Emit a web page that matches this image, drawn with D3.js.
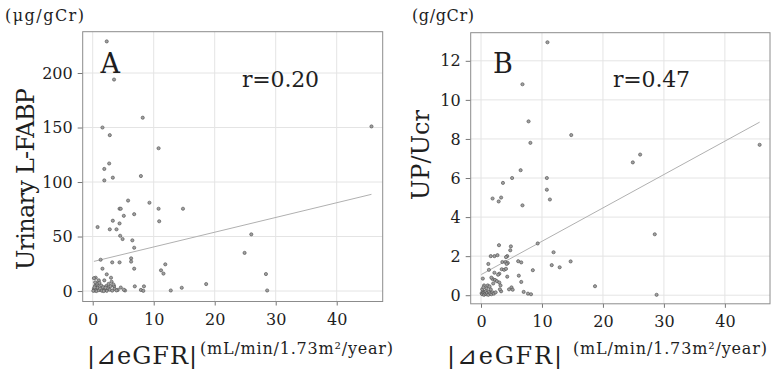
<!DOCTYPE html>
<html><head><meta charset="utf-8">
<script src="https://cdn.jsdelivr.net/npm/d3@7"></script>
<style>body{margin:0;background:#fff}svg{display:block}text{font-family:"DejaVu Serif",serif;fill:#1e1e1e}</style>
</head><body><svg id="c" width="771" height="369"></svg>
<script>
// ---- data ----
const xTicks = [0, 10, 20, 30, 40];
const aYTicks = [0, 50, 100, 150, 200];
const bYTicks = [0, 2, 4, 6, 8, 10, 12];
const aPoints = [
 [2.3,229],[3.5,194],[8.2,159],[1.6,150],[2.8,143],[10.8,131],[2.7,117],[1.9,112],[1.9,101.5],[3.3,104],[7.9,105.5],[45.7,151],
 [5.8,83],[9.3,81],[4.4,75.5],[4.6,75.5],[10.8,75.5],[14.8,75.5],[5.1,69],[6.8,70.5],[3.3,64.5],[10.9,64],[4.4,62],
 [0.8,58.7],[2.8,56.6],[3.9,56.6],[4.5,50.7],[4.9,47.7],[6.5,46.5],[6.8,39.7],[26.0,52],[24.9,35],
 [1.3,28.7],[3.2,26.3],[4.4,26.3],[6.3,30],[6.3,27],[6.8,20.5],[11.9,24.5],[11.2,19],[11.6,16],
 [1.6,20.5],[2.3,15.3],[3.0,12.2],[0.5,12.2],[0.2,11.8],[1.0,9.8],[1.9,9.8],[3.1,8.5],
 [28.4,15.6],[28.6,0.5],[18.6,6.4],[14.6,3],[12.8,0.5],
 [6.9,4.3],[8.4,4.3],[7.9,1],[8.3,0.2],[5.3,0.5],[5.1,1.2],[4.1,1],
 [0.4,5],[0.8,5],[1.4,5],[2.2,4.5],[2.9,4.5],[3.5,4.5],[0.2,2],[0.3,0.5],[0.5,1.5],[0.6,0],[0.8,3],[1.0,0.8],
 [1.2,2.2],[1.5,0.3],[1.7,3.5],[2.0,1],[2.3,0.2],[2.5,2.5],[2.8,1.2],[3.2,0.4],[3.6,2],[3.9,0.6],[0.1,0.2],
 [0.3,3.4],[0.7,6.8],[1.1,7.5],[2.6,6.5],[3.4,6],[4.6,3.2],[1.8,0],[0.4,8],[2.1,3]
];
const bPoints = [
 [10.9,12.95],[6.8,10.8],[7.8,8.9],[14.8,8.2],[8.1,7.8],[6.5,6.4],[5.1,6.0],[10.8,6.0],[3.6,5.75],[10.8,5.4],
 [1.9,4.95],[2.9,4.8],[3.3,5.0],[6.8,4.6],[11.3,4.9],[24.9,6.8],[26.1,7.2],[45.7,7.7],[28.5,3.12],[28.8,0.02],[18.7,0.46],
 [9.3,2.65],[2.95,2.56],[4.9,2.5],[4.8,2.3],[11.9,2.2],[1.6,2.0],[2.2,2.0],[2.7,2.05],[4.3,2.0],[4.1,1.95],
 [1.2,1.6],[3.5,1.7],[4.0,1.7],[4.4,1.65],[4.2,1.6],[6.1,1.74],[6.6,1.68],[11.6,1.54],[12.9,1.43],[14.7,1.73],
 [3.4,1.33],[3.8,1.3],[4.1,1.35],[0.3,0.85],[3.0,1.1],[2.8,1.05],[4.3,0.95],[1.9,0.83],[2.3,0.78],[2.6,0.72],[3.0,0.65],
 [6.2,1.0],[8.5,1.28],[6.6,0.68],[3.2,0.5],[7.0,0.17],[7.7,0.08],[8.2,0.05],[4.6,0.3],[5.0,0.4],[5.2,0.28],[3.3,0.2],[3.1,0.3],
 [0.5,0.5],[0.9,0.35],[1.1,0.5],
 [0.1,0.1],[0.2,0.05],[0.3,0.2],[0.4,0.12],[0.5,0.02],[0.6,0.15],[0.7,0.08],[0.8,0.2],[0.9,0.05],[1.0,0.12],[1.2,0.02],
 [1.3,0.18],[1.5,0.1],[1.7,0.05],[1.9,0.15],[2.1,0.08],[0.2,0.3],[0.4,0.4],[1.6,0.3],[2.4,0.15],[1.4,0.45],[2.0,0.6],
 [1.7,0.9],[2.2,1.15],[1.3,1.3]
];
const aFit = [[0.2, 27.2], [45.7, 88.7]];
const bFit = [[0.05, 1.06], [45.7, 8.86]];
const panels = [
 {label:"A", r:"r=0.20", unit:"(μg/gCr)", yTitle:"Urinary L-FABP", pts:aPoints, fit:aFit, yTicks:aYTicks,
  xd:[-1.64,47.54], xr:[82.7,382.7], yd:[-9.6,237.9], yr:[301.5,31.7],
  unitX:5, unitW:79, yTitleX:33.5, yTitleY:179, yTitleW:182,
  bigX:87, bigW:110, smallX:200, smallW:193, labelX:100.5, rX:242},
 {label:"B", r:"r=0.47", unit:"(g/gCr)", yTitle:"UP/Ucr", pts:bPoints, fit:bFit, yTicks:bYTicks,
  xd:[-1.69,47.4], xr:[470.7,770], yd:[-0.44,13.44], yr:[303.8,32.7],
  unitX:412, unitW:62, yTitleX:428.5, yTitleY:155, yTitleW:90,
  bigX:447, bigW:115, smallX:573, smallW:194, labelX:493, rX:613}
];
// ---- draw ----
const svg = d3.select("#c");
panels.forEach(p => {
  const x = d3.scaleLinear().domain(p.xd).range(p.xr);
  const y = d3.scaleLinear().domain(p.yd).range(p.yr);
  const g = svg.append("g");
  const [x0,x1] = p.xr, [y0,y1] = p.yr;
  g.append("rect").attr("x",x0).attr("y",y1).attr("width",x1-x0).attr("height",y0-y1).attr("fill","#fff");
  // grid
  g.selectAll(".gx").data(xTicks).join("line").attr("x1",d=>x(d)).attr("x2",d=>x(d)).attr("y1",y1).attr("y2",y0)
    .attr("stroke","#e4e4e4").attr("stroke-width",1);
  g.selectAll(".gy").data(p.yTicks).join("line").attr("y1",d=>y(d)).attr("y2",d=>y(d)).attr("x1",x0).attr("x2",x1)
    .attr("stroke","#e4e4e4").attr("stroke-width",1);
  // axes
  const ax = g.append("g").attr("transform",`translate(0,${y0})`).call(d3.axisBottom(x).tickValues(xTicks).tickSize(4).tickPadding(5));
  const ay = g.append("g").attr("transform",`translate(${x0},0)`).call(d3.axisLeft(y).tickValues(p.yTicks).tickSize(5).tickPadding(5));
  [ax,ay].forEach(a=>{ a.select(".domain").remove(); a.selectAll("line").attr("stroke","#777");
    a.selectAll("text").attr("font-family","DejaVu Serif").attr("font-size",16).attr("fill","#262626"); });
  ax.selectAll("text").attr("dy","0.9em");
  // border
  g.append("rect").attr("x",x0).attr("y",y1).attr("width",x1-x0).attr("height",y0-y1)
    .attr("fill","none").attr("stroke","#8c8c8c").attr("stroke-width",1);
  // fit line
  g.append("path").datum(p.fit).attr("d", d3.line().x(d=>x(d[0])).y(d=>y(d[1])))
    .attr("stroke","#b0b0b0").attr("stroke-width",1).attr("fill","none");
  // points
  g.selectAll(".pt").data(p.pts).join("circle").attr("cx",d=>x(d[0])).attr("cy",d=>y(d[1])).attr("r",1.6)
    .attr("fill","#a0a0a0").attr("stroke","#4a4a4a").attr("stroke-width",0.6);
  // texts
  g.append("text").attr("x",p.labelX).attr("y",72.7).attr("font-size",27).text(p.label);
  g.append("text").attr("x",p.rX).attr("y",87.3).attr("font-size",22).attr("textLength",77).attr("lengthAdjust","spacing").text(p.r);
  g.append("text").attr("x",p.unitX).attr("y",21).attr("font-size",16).attr("textLength",p.unitW).attr("lengthAdjust","spacing").text(p.unit);
  g.append("text").attr("transform",`translate(${p.yTitleX},${p.yTitleY}) rotate(-90)`).attr("text-anchor","middle")
    .attr("font-size",24).attr("textLength",p.yTitleW).attr("lengthAdjust","spacing").text(p.yTitle);
  g.append("text").attr("x",p.bigX).attr("y",364).attr("font-size",24).attr("textLength",p.bigW).attr("lengthAdjust","spacing").text("|⊿eGFR|");
  g.append("text").attr("x",p.smallX).attr("y",354).attr("font-size",16).attr("textLength",p.smallW).attr("lengthAdjust","spacing").text("(mL/min/1.73m²/year)");
});
</script></body></html>
